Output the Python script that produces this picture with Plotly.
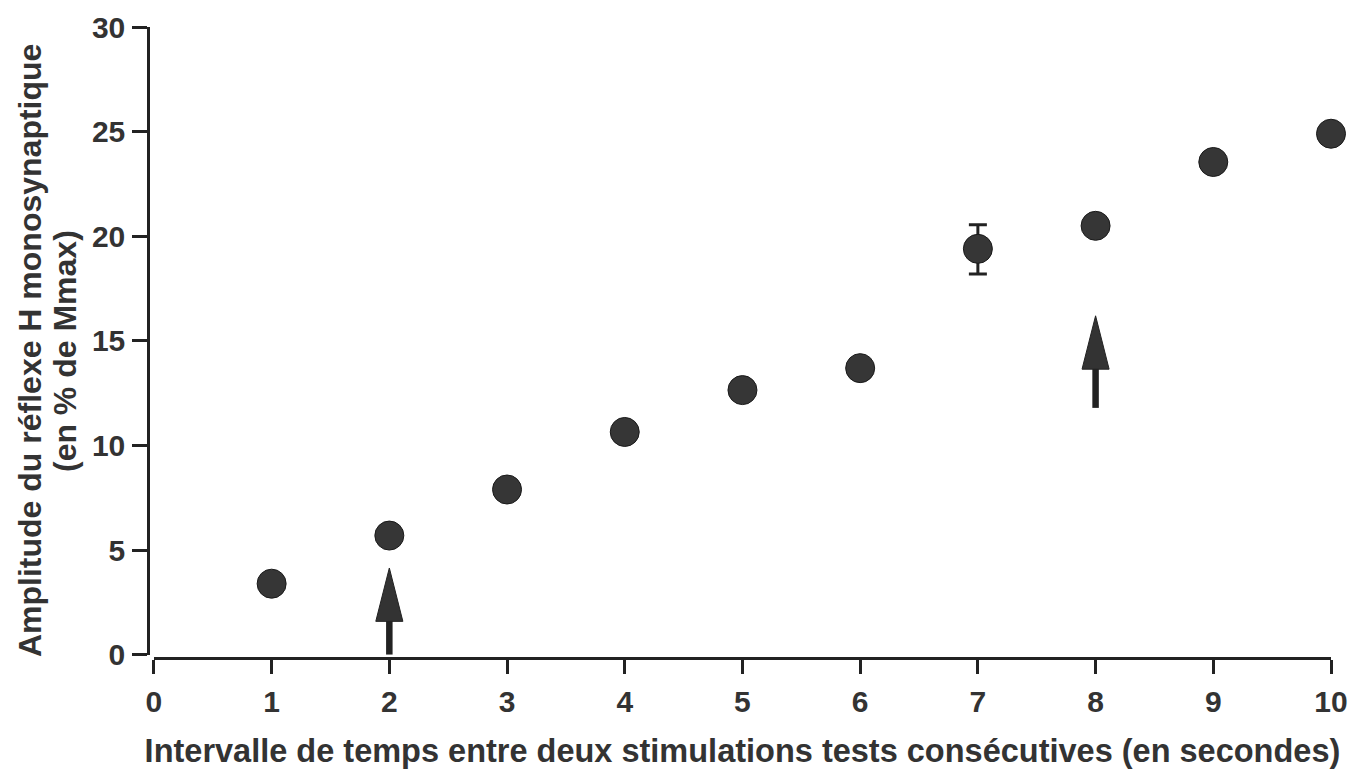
import plotly.graph_objects as go

# Data
intervals = [1, 2, 3, 4, 5, 6, 7, 8, 9, 10]
amplitude = [3.4, 5.7, 7.9, 10.65, 12.65, 13.7, 19.4, 20.5, 23.55, 24.9]
err_plus = [0, 0, 0, 0, 0, 0, 1.15, 0, 0, 0]
err_minus = [0, 0, 0, 0, 0, 0, 1.2, 0, 0, 0]

x_ticks = [0, 1, 2, 3, 4, 5, 6, 7, 8, 9, 10]
y_ticks = [0, 5, 10, 15, 20, 25, 30]

# Arrows (x position, tail y, tip y)
arrow_x = [2, 8]
arrow_tail = [0, 11.8]
arrow_tip = [4.15, 16.2]

y_title_lines = ["Amplitude du réflexe H monosynaptique", "(en % de Mmax)"]
x_title = "Intervalle de temps entre deux stimulations tests consécutives (en secondes)"

FONT = "Liberation Sans, Arial, sans-serif"
DARK = "#333333"

fig = go.Figure()
fig.add_trace(go.Scatter(
    x=intervals, y=amplitude, mode="markers",
    marker=dict(size=29, color="#363636", line=dict(color="#1a1a1a", width=1)),
    error_y=dict(type="data", symmetric=False, array=err_plus, arrayminus=err_minus,
                 color="#222222", thickness=3, width=9),
    showlegend=False, cliponaxis=False,
))

shapes = []
head_len = 2.55      # in y units
head_half = 0.115    # in x units
for ax_, t0, t1 in zip(arrow_x, arrow_tail, arrow_tip):
    base = t1 - head_len
    shapes.append(dict(type="line", xref="x", yref="y", x0=ax_, x1=ax_, y0=t0, y1=base + 0.2,
                       line=dict(color="#222222", width=6.5)))
    shapes.append(dict(type="path", xref="x", yref="y",
                       path=f"M {ax_ - head_half},{base} L {ax_ + head_half},{base} L {ax_},{t1} Z",
                       fillcolor="#333333", line=dict(color="#222222", width=1)))

# y-axis title as two rotated text lines (reference uses tight line spacing)
annotations = []
for line, xs in zip(y_title_lines, [-118, -83]):
    annotations.append(dict(
        text=line, xref="paper", yref="paper", x=0, y=0.4865, xshift=xs,
        xanchor="center", yanchor="middle", textangle=-90, showarrow=False,
        font=dict(family=FONT, size=32, color=DARK, weight="bold"),
    ))

fig.update_layout(
    width=1342, height=761,
    margin=dict(l=140, r=19, t=19, b=111),
    paper_bgcolor="white", plot_bgcolor="white",
    font=dict(family=FONT, color=DARK),
    shapes=shapes,
    annotations=annotations,
    xaxis=dict(
        range=[0, 10], domain=[0.005, 1], anchor="free", position=0, automargin=False,
        tickmode="array", tickvals=x_ticks, ticktext=[str(v) for v in x_ticks],
        ticks="outside", ticklen=14, tickwidth=2.5, tickcolor="#222222",
        showline=True, linewidth=2.5, linecolor="#222222", showgrid=False, zeroline=False,
        tickfont=dict(family=FONT, size=30, color=DARK, weight="bold"),
        ticklabelstandoff=2, ticklabeloverflow="allow",
        title=dict(text=x_title,
                   font=dict(family=FONT, size=32.5, color=DARK, weight="bold"), standoff=26),
    ),
    yaxis=dict(
        range=[0, 30], domain=[0.005, 1], anchor="free", position=0, automargin=False,
        tickmode="array", tickvals=y_ticks, ticktext=[str(v) for v in y_ticks],
        ticks="outside", ticklen=15, tickwidth=2.5, tickcolor="#222222",
        showline=True, linewidth=2.5, linecolor="#222222", showgrid=False, zeroline=False,
        tickfont=dict(family=FONT, size=30, color=DARK, weight="bold"),
        ticklabelstandoff=1,
    ),
)

fig.write_html("out.html")
